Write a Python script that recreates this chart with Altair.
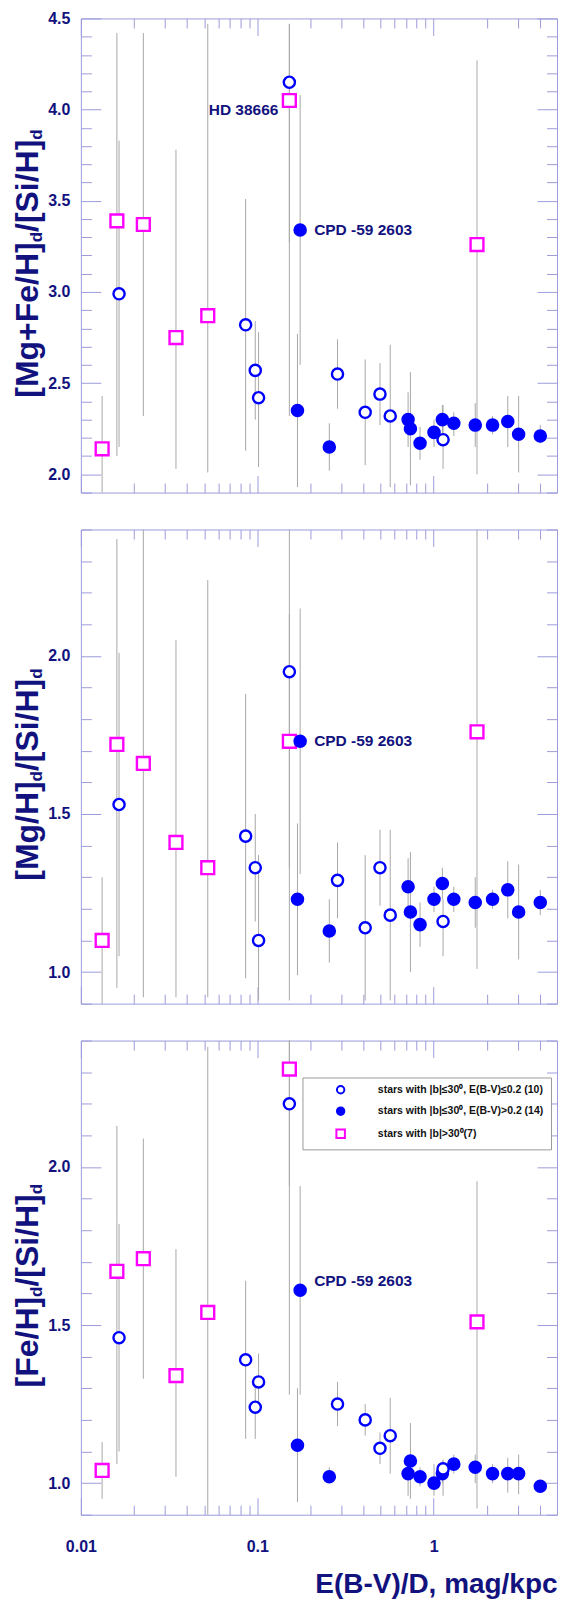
import altair as alt
import pandas as pd

# ---------------- data ----------------
G_OPEN = "stars with |b|≤30⁰, E(B-V)≤0.2 (10)"
G_FILL = "stars with |b|≤30⁰, E(B-V)>0.2 (14)"
G_SQ = "stars with |b|>30⁰(7)"
GROUPS = [G_OPEN, G_FILL, G_SQ]

SQ_X = [0.0132, 0.0160, 0.0226, 0.0346, 0.0524, 0.152, 1.76]
OC_X = [0.01646, 0.0859, 0.1017, 0.0974, 0.152, 0.285, 0.409, 0.496, 0.567, 1.13]
FC_X = [0.175, 0.169, 0.256, 0.738, 0.716, 0.837, 1.004, 1.12, 1.30, 1.72, 2.156, 2.63, 3.03, 4.02]

# panel 1 : [Mg+Fe/H]d/[Si/H]d
P1_SQ = [2.14, 3.39, 3.37, 2.75, 2.87, 4.05, 3.26]
P1_SQ_LO = [1.85, 2.10, 2.32, 2.03, 2.01, 2.32, 2.00]
P1_SQ_HI = [2.43, 4.42, 4.42, 3.78, 4.47, 4.47, 4.27]
P1_OC = [2.99, 2.82, 2.42, 2.57, 4.15, 2.55, 2.34, 2.44, 2.32, 2.19]
P1_OC_LO = [2.15, 2.13, 2.04, 2.30, 3.27, 2.36, 2.05, 2.27, 1.93, 2.03]
P1_OC_HI = [3.83, 3.51, 2.78, 2.84, 4.47, 2.74, 2.63, 2.61, 2.71, 2.38]
P1_FC = [3.34, 2.35, 2.15, 2.25, 2.30, 2.17, 2.23, 2.30, 2.28, 2.27, 2.27, 2.29, 2.22, 2.21]
P1_FC_LO = [2.60, 1.93, 2.02, 1.94, 2.15, 2.08, 2.15, 2.22, 2.21, 2.15, 2.22, 2.15, 2.01, 2.17]
P1_FC_HI = [4.08, 2.77, 2.28, 2.56, 2.45, 2.26, 2.30, 2.38, 2.34, 2.39, 2.32, 2.43, 2.43, 2.27]

# panel 2 : [Mg/H]d/[Si/H]d
P2_SQ = [1.10, 1.72, 1.66, 1.41, 1.33, 1.73, 1.76]
P2_SQ_LO = [0.85, 0.95, 0.92, 0.92, 0.92, 0.91, 1.01]
P2_SQ_HI = [1.30, 2.37, 2.45, 2.05, 2.24, 2.45, 2.45]
P2_OC = [1.53, 1.43, 1.10, 1.33, 1.95, 1.29, 1.14, 1.33, 1.18, 1.16]
P2_OC_LO = [1.05, 0.98, 0.91, 1.16, 1.33, 1.17, 0.91, 1.21, 0.91, 1.05]
P2_OC_HI = [2.01, 1.88, 1.37, 1.50, 2.13, 1.41, 1.37, 1.45, 1.45, 1.23]
P2_FC = [1.73, 1.23, 1.13, 1.19, 1.27, 1.15, 1.23, 1.28, 1.23, 1.22, 1.23, 1.26, 1.19, 1.22]
P2_FC_LO = [1.31, 0.99, 1.03, 1.00, 1.18, 1.08, 1.19, 1.23, 1.19, 1.14, 1.20, 1.17, 1.04, 1.18]
P2_FC_HI = [2.15, 1.47, 1.23, 1.38, 1.36, 1.22, 1.27, 1.33, 1.27, 1.30, 1.26, 1.35, 1.34, 1.26]

# panel 3 : [Fe/H]d/[Si/H]d
P3_SQ = [1.04, 1.67, 1.71, 1.34, 1.54, 2.31, 1.51]
P3_SQ_LO = [0.95, 1.06, 1.33, 1.02, 0.85, 1.94, 0.92]
P3_SQ_HI = [1.13, 2.13, 2.09, 1.74, 2.38, 2.45, 1.955]
P3_OC = [1.46, 1.39, 1.32, 1.24, 2.20, 1.25, 1.20, 1.11, 1.15, 1.045]
P3_OC_LO = [1.10, 1.14, 1.23, 1.14, 1.28, 1.18, 1.15, 1.06, 1.03, 0.96]
P3_OC_HI = [1.82, 1.64, 1.41, 1.31, 2.45, 1.32, 1.25, 1.16, 1.27, 1.075]
P3_FC = [1.61, 1.12, 1.02, 1.07, 1.03, 1.02, 1.00, 1.03, 1.06, 1.05, 1.03, 1.03, 1.03, 0.99]
P3_FC_LO = [1.28, 0.94, 1.00, 0.95, 0.96, 0.99, 0.96, 1.00, 1.03, 1.00, 1.00, 0.97, 0.965, 0.97]
P3_FC_HI = [1.94, 1.30, 1.05, 1.19, 1.08, 1.05, 1.06, 1.07, 1.09, 1.09, 1.06, 1.08, 1.09, 1.01]

# annotations (label, x, y, side)
P1_ANN = [("HD 38666", 0.152, 4.0, "right"), ("CPD -59 2603", 0.175, 3.34, "left")]
P2_ANN = [("CPD -59 2603", 0.175, 1.73, "left")]
P3_ANN = [("CPD -59 2603", 0.175, 1.64, "left")]

P1_TITLE = ["[Mg+Fe/H]", "d", "/[Si/H]", "d"]
P2_TITLE = ["[Mg/H]", "d", "/[Si/H]", "d"]
P3_TITLE = ["[Fe/H]", "d", "/[Si/H]", "d"]

X_TITLE = "E(B-V)/D, mag/kpc"
X_DOMAIN = [0.01, 5]
X_TICKS = [round(m * 10 ** e, 6) for e in (-2, -1) for m in range(1, 10)] + [1, 2, 3, 4, 5]
Y1_DOMAIN = [1.9, 4.5]
Y23_DOMAIN = [0.9, 2.4]
Y1_TICKS = [round(1.9 + 0.1 * i, 2) for i in range(27)]
Y23_TICKS = [round(0.9 + 0.1 * i, 2) for i in range(16)]

# ---------------- styling ----------------
FONT = "Liberation Sans"
NAVY = "#12127e"
FRAME = "#9c9cdc"
GRAY = "#a8a8a8"
BLUE = "#0000ff"
MAGENTA = "#ff00ff"
W, H = 477, 475

SQUARE_PATH = "M-1.15,-1.15H1.15V1.15H-1.15Z"

YMAJ = "abs(datum.value*2 - round(datum.value*2)) < 0.001"
XMAJ = "abs(log(datum.value)/LN10 - round(log(datum.value)/LN10)) < 0.001"

BOLD_W = {'[': 333, ']': 333, 'M': 833, 'g': 611, '+': 584, 'F': 611, 'e': 556,
          '/': 278, 'H': 722, 'S': 667, 'i': 278, 'd': 611}
TITLE_FS, SUB_FS = 32, 17


def seg_len(s, fs):
    return sum(BOLD_W[c] for c in s) * fs / 1000.0


def y_axis(orient, ticks, labels):
    return alt.Axis(orient=orient, values=ticks, labels=labels,
                    labelExpr=f"{YMAJ} ? format(datum.value, '.1f') : ''",
                    tickSize={"expr": f"{YMAJ} ? -20 : -10.5"},
                    labelPadding=31, labelFlush=False, labelOverlap=False,
                    domain=False, grid=False, title=None,
                    tickColor=FRAME, tickWidth=1,
                    labelFont=FONT, labelFontSize=16, labelFontWeight="bold",
                    labelColor=NAVY)


def x_axis(orient, labels, title=None):
    kw = dict(orient=orient, values=X_TICKS, labels=labels,
              labelExpr=f"{XMAJ} ? toString(datum.value) : ''",
              tickSize={"expr": f"{XMAJ} ? -17 : -9.5"},
              labelPadding=41, labelFlush=False, labelOverlap=False,
              domain=False, grid=False,
              tickColor=FRAME, tickWidth=1,
              labelFont=FONT, labelFontSize=16, labelFontWeight="bold",
              labelColor=NAVY)
    if title:
        kw.update(title=title, titleFont=FONT, titleFontSize=28, titleFontWeight="bold",
                  titleColor=NAVY, titleAnchor="end", titleBaseline="top", titleY=56)
    else:
        kw.update(title=None)
    return alt.Axis(**kw)


def panel(sq, sq_lo, sq_hi, oc, oc_lo, oc_hi, fc, fc_lo, fc_hi,
          ydom, yticks, title_segs, anns, bottom_panel):
    rows = []
    for x, v, lo, hi in zip(SQ_X, sq, sq_lo, sq_hi):
        rows.append(dict(x=x, v=v, lo=lo, hi=hi, g=G_SQ))
    for x, v, lo, hi in zip(FC_X, fc, fc_lo, fc_hi):
        rows.append(dict(x=x, v=v, lo=lo, hi=hi, g=G_FILL))
    for x, v, lo, hi in zip(OC_X, oc, oc_lo, oc_hi):
        rows.append(dict(x=x, v=v, lo=lo, hi=hi, g=G_OPEN))
    df = pd.DataFrame(rows)

    xs = alt.Scale(type="log", domain=X_DOMAIN, nice=False)
    ys = alt.Scale(domain=ydom, nice=False, zero=False)

    rules = alt.Chart(df).mark_rule(color=GRAY, strokeWidth=1, clip=True).encode(
        x=alt.X("x:Q", scale=xs,
                axis=x_axis("bottom", bottom_panel, X_TITLE if bottom_panel else None)),
        y=alt.Y("lo:Q", scale=ys, axis=y_axis("left", yticks, True)),
        y2="hi:Q",
    )

    if bottom_panel:
        leg = alt.Legend(title=None, orient="none", legendX=222, legendY=37,
                         direction="vertical", strokeColor="#9a9a9a", fillColor="white",
                         padding=7, symbolOffset=26, labelOffset=32, rowPadding=5.5,
                         symbolSize=55, symbolStrokeWidth=2, labelFont=FONT,
                         labelFontSize=10.5, labelFontWeight="bold", labelColor="#111111",
                         labelLimit=300, cornerRadius=0)
    else:
        leg = None

    pts = alt.Chart(df).mark_point(size=125, strokeWidth=2.4, opacity=1, clip=True).encode(
        x=alt.X("x:Q", scale=xs, axis=x_axis("top", False)),
        y=alt.Y("v:Q", scale=ys, axis=y_axis("right", yticks, False)),
        shape=alt.Shape("g:N", scale=alt.Scale(domain=GROUPS, range=["circle", "circle", SQUARE_PATH]),
                        legend=leg),
        fill=alt.Fill("g:N", scale=alt.Scale(domain=GROUPS, range=["white", BLUE, "white"]),
                      legend=leg),
        stroke=alt.Stroke("g:N", scale=alt.Scale(domain=GROUPS, range=[BLUE, BLUE, MAGENTA]),
                          legend=leg),
    )

    layers = [rules, pts]
    for label, ax, ay, side in anns:
        adf = pd.DataFrame({"t": [label], "x": [ax], "y": [ay]})
        layers.append(
            alt.Chart(adf).mark_text(font=FONT, fontSize=15.5, fontWeight="bold", color=NAVY,
                                     align=side, baseline="middle",
                                     dx=(-11 if side == "right" else 14)).encode(
                x=alt.X("x:Q", scale=xs, axis=None),
                y=alt.Y("y:Q", scale=ys, axis=None),
                text="t:N")
        )

    # y title built from pieces so that the "d" subscripts can be drawn
    sizes = [TITLE_FS if i % 2 == 0 else SUB_FS for i in range(len(title_segs))]
    total = sum(seg_len(s, f) for s, f in zip(title_segs, sizes))
    ypos = H / 2 + 8 + total / 2
    for s, f in zip(title_segs, sizes):
        xb = -43 if f == TITLE_FS else -39
        tdf = pd.DataFrame({"t": [s]})
        layers.append(
            alt.Chart(tdf).mark_text(font=FONT, fontSize=f, fontWeight="bold", color=NAVY,
                                     angle=270, align="left", baseline="alphabetic").encode(
                x=alt.value(xb), y=alt.value(ypos), text="t:N")
        )
        ypos -= seg_len(s, f)

    return alt.layer(*layers).resolve_axis(x="independent", y="independent").properties(
        width=W, height=H)


p1 = panel(P1_SQ, P1_SQ_LO, P1_SQ_HI, P1_OC, P1_OC_LO, P1_OC_HI, P1_FC, P1_FC_LO, P1_FC_HI,
           Y1_DOMAIN, Y1_TICKS, P1_TITLE, P1_ANN, False)
p2 = panel(P2_SQ, P2_SQ_LO, P2_SQ_HI, P2_OC, P2_OC_LO, P2_OC_HI, P2_FC, P2_FC_LO, P2_FC_HI,
           Y23_DOMAIN, Y23_TICKS, P2_TITLE, P2_ANN, False)
p3 = panel(P3_SQ, P3_SQ_LO, P3_SQ_HI, P3_OC, P3_OC_LO, P3_OC_HI, P3_FC, P3_FC_LO, P3_FC_HI,
           Y23_DOMAIN, Y23_TICKS, P3_TITLE, P3_ANN, True)

chart = alt.vconcat(p1, p2, p3, spacing=37, bounds="flush").resolve_legend(
    shape="independent", fill="independent", stroke="independent"
).properties(
    padding={"left": 3, "top": 0, "right": 0, "bottom": 0}
).configure_view(stroke=FRAME, strokeWidth=1)

chart.save("out.html", embed_options={"renderer": "svg", "actions": False})
